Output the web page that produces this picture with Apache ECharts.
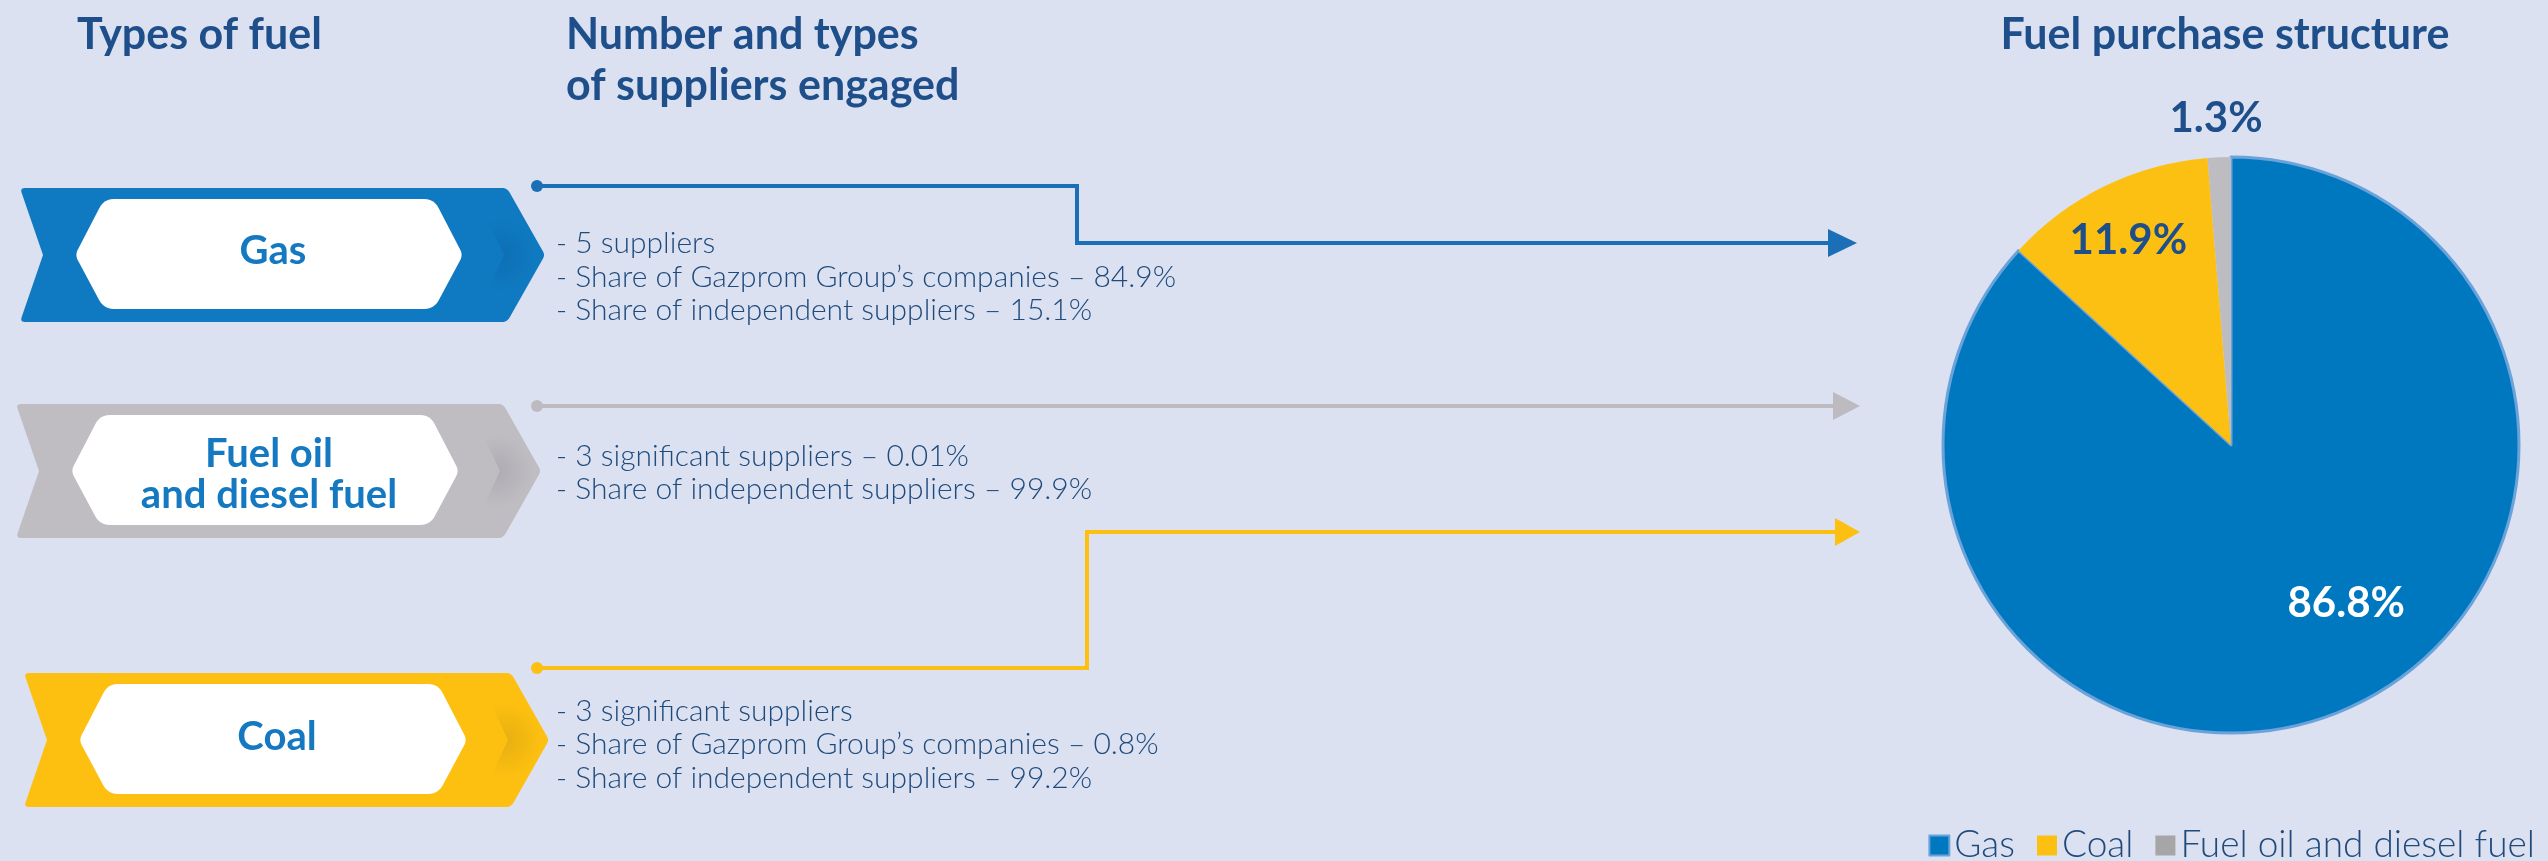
<!DOCTYPE html>
<html>
<head>
<meta charset="utf-8">
<script src="https://cdn.jsdelivr.net/npm/echarts@6/dist/echarts.min.js"></script>
<style>
  html, body { margin: 0; padding: 0; background: #dbe1f1; }
  #chart { width: 2548px; height: 861px; }
</style>
</head>
<body>
<div id="chart"></div>
<script>
// ---------- data ----------
const fuelTypes = ['Gas', 'Fuel oil\nand diesel fuel', 'Coal'];
const supplierNotes = [
  ['- 5 suppliers', '- Share of Gazprom Group\u2019s companies \u2013 84.9%', '- Share of independent suppliers \u2013 15.1%'],
  ['- 3 significant suppliers \u2013 0.01%', '- Share of independent suppliers \u2013 99.9%'],
  ['- 3 significant suppliers', '- Share of Gazprom Group\u2019s companies \u2013 0.8%', '- Share of independent suppliers \u2013 99.2%']
];
const headings = ['Types of fuel', 'Number and types\nof suppliers engaged', 'Fuel purchase structure'];
const pieNames = ['Gas', 'Coal', 'Fuel oil and diesel fuel'];
const pieValues = [86.8, 11.9, 1.3];

// ---------- styling / layout ----------
const FONT = 'Lato';
const titleColor = '#1f4f8b';
const noteColor = '#1f4a7c';
const innerTextColor = '#1479c0';
const pieColors = ['#0078c0', '#fcc012', '#bdbcc0'];

const rows = [
  { x0: 20, top: 188, fill: '#0f7ac1', line: '#1b6fb6',
    path: [[537,186],[1077,186],[1077,243],[1830,243]], arrow: [1828,1857,243],
    textYs: [252,286,319], labelYs: [61] },
  { x0: 16, top: 404, fill: '#bfbdc1', line: '#bdbbbf',
    path: [[537,406],[1834,406]], arrow: [1833,1860,406],
    textYs: [465,498], labelYs: [48,89] },
  { x0: 24, top: 673, fill: '#fdc010', line: '#fdc010',
    path: [[537,668],[1087,668],[1087,532],[1836,532]], arrow: [1835,1860,532],
    textYs: [720,753,787], labelYs: [62] }
];

function roundPoly(pts, radii, steps) {
  steps = steps || 6;
  const out = [];
  const n = pts.length;
  for (let i = 0; i < n; i++) {
    const p0 = pts[(i - 1 + n) % n], p1 = pts[i], p2 = pts[(i + 1) % n];
    const r = radii[i];
    if (!r) { out.push(p1); continue; }
    const d1 = Math.hypot(p0[0]-p1[0], p0[1]-p1[1]);
    const d2 = Math.hypot(p2[0]-p1[0], p2[1]-p1[1]);
    const rr = Math.min(r, d1/2, d2/2);
    const a = [p1[0] + (p0[0]-p1[0])*rr/d1, p1[1] + (p0[1]-p1[1])*rr/d1];
    const b = [p1[0] + (p2[0]-p1[0])*rr/d2, p1[1] + (p2[1]-p1[1])*rr/d2];
    for (let s = 0; s <= steps; s++) {
      const t = s / steps;
      out.push([
        (1-t)*(1-t)*a[0] + 2*(1-t)*t*p1[0] + t*t*b[0],
        (1-t)*(1-t)*a[1] + 2*(1-t)*t*p1[1] + t*t*b[1]
      ]);
    }
  }
  return out;
}
function shift(pts, dx, dy) { return pts.map(p => [p[0]+dx, p[1]+dy]); }

const outerRel = [[0,0],[487,0],[525,67],[487,134],[0,134],[23,67]];
const outerR = [5,5,4,5,5,0];
const innerRel = [[84,11],[414,11],[443,67],[414,121],[84,121],[55,67]];
const innerR = [10,10,6,10,10,6];
const shadeRel = [[459,14],[497,14],[521,67],[497,120],[459,120],[484,67]];

const elements = [];
const HS = 43;
// headings
elements.push({ type: 'text', x: 77, y: 35, z: 5, style: { text: headings[0], fontFamily: FONT, fontWeight: 'bold', fontSize: HS, fill: titleColor, align: 'left', verticalAlign: 'middle' } });
const h2 = headings[1].split('\n');
h2.forEach((t, i) => elements.push({ type: 'text', x: 566, y: 35 + i * 51, z: 5, style: { text: t, fontFamily: FONT, fontWeight: 'bold', fontSize: HS, fill: titleColor, align: 'left', verticalAlign: 'middle' } }));
elements.push({ type: 'text', x: 2225, y: 35, z: 5, style: { text: headings[2], fontFamily: FONT, fontWeight: 'bold', fontSize: HS, fill: titleColor, align: 'center', verticalAlign: 'middle' } });

rows.forEach((r, idx) => {
  elements.push({ type: 'polygon', z: 1, shape: { points: roundPoly(shift(outerRel, r.x0, r.top), outerR) }, style: { fill: r.fill } });
  elements.push({ type: 'polygon', z: 2, shape: { points: shift(shadeRel, r.x0, r.top) },
    style: { fill: { type: 'radial', x: 0.35, y: 0.5, r: 0.6, colorStops: [
      { offset: 0, color: 'rgba(0,0,40,0.09)' }, { offset: 1, color: 'rgba(0,0,40,0)' } ] } } });
  elements.push({ type: 'polygon', z: 3, shape: { points: roundPoly(shift(innerRel, r.x0, r.top), innerR) }, style: { fill: '#ffffff' } });
  const lbl = fuelTypes[idx].split('\n');
  lbl.forEach((t, i) => elements.push({ type: 'text', z: 4, x: r.x0 + 253, y: r.top + r.labelYs[i] + 2,
    style: { text: t, fontFamily: FONT, fontWeight: 'bold', fontSize: 40, fill: innerTextColor, align: 'center', verticalAlign: 'middle' } }));
  // connector
  elements.push({ type: 'polyline', z: 2, shape: { points: r.path }, style: { stroke: r.line, lineWidth: 4, fill: null, lineJoin: 'miter' } });
  elements.push({ type: 'circle', z: 3, shape: { cx: r.path[0][0], cy: r.path[0][1], r: 6 }, style: { fill: r.line } });
  const [ab, at, ay] = r.arrow;
  elements.push({ type: 'polygon', z: 3, shape: { points: [[ab, ay - 14], [at, ay], [ab, ay + 14]] }, style: { fill: r.line } });
  // notes
  supplierNotes[idx].forEach((t, i) => elements.push({ type: 'text', z: 4, x: 556, y: r.textYs[i] - 9,
    style: { text: t, fontFamily: FONT, fontWeight: 300, fontSize: 30, fill: noteColor, align: 'left', verticalAlign: 'middle' } }));
});

const labelColors = ['#ffffff', titleColor, titleColor];
const labelOffsets = [[56, 24], [-38, -73], [-9, -180]];

const chart = echarts.init(document.getElementById('chart'));
chart.setOption({
  backgroundColor: '#dbe1f1',
  animation: false,
  graphic: { elements: elements },
  legend: {
    right: 8, top: 822,
    itemWidth: 20, itemHeight: 20, itemGap: 22,
    icon: 'rect',
    textStyle: { fontFamily: FONT, fontWeight: 300, fontSize: 37, color: noteColor },
    data: [
      { name: pieNames[0] },
      { name: pieNames[1] },
      { name: pieNames[2], itemStyle: { color: '#a6a6a6' } }
    ]
  },
  series: [{
    type: 'pie',
    center: [2231, 445],
    radius: 288,
    startAngle: 90,
    clockwise: true,
    avoidLabelOverlap: false,
    silent: true,
    data: pieNames.map((n, i) => ({
      name: n, value: pieValues[i],
      itemStyle: i === 0 ? { color: pieColors[i], borderColor: '#6aa3da', borderWidth: 3 } : { color: pieColors[i] },
      label: { color: labelColors[i] }
    })),
    label: {
      show: true, position: 'inside',
      formatter: p => p.value.toFixed(1) + '%',
      fontFamily: FONT, fontWeight: 'bold', fontSize: 42
    },
    labelLine: { show: false },
    labelLayout: function (params) {
      const o = labelOffsets[params.dataIndex];
      return { dx: o[0], dy: o[1] };
    }
  }]
});
</script>
</body>
</html>
